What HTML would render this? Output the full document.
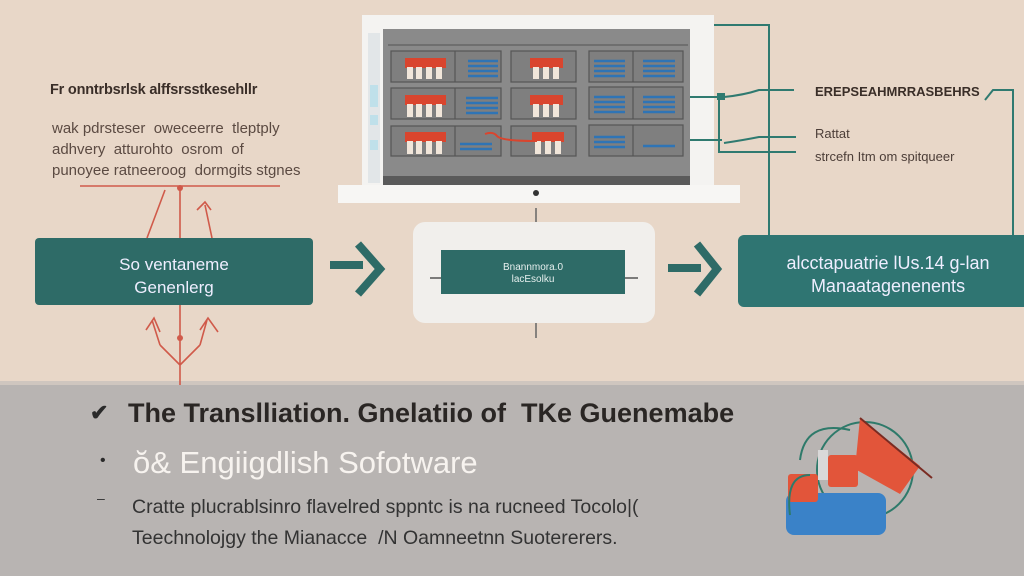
<!DOCTYPE html>
<html><head><meta charset="utf-8"><style>
html,body{margin:0;padding:0;}
body{width:1024px;height:576px;overflow:hidden;background:#e8d7c8;font-family:"Liberation Sans",sans-serif;position:relative;}
svg{position:absolute;left:0;top:0;}
.t{position:absolute;white-space:nowrap;}
</style></head><body>
<svg width="1024" height="576" viewBox="0 0 1024 576">
<rect x="0" y="0" width="1024" height="383" fill="#e8d7c8"/>
<rect x="0" y="383" width="1024" height="193" fill="#b8b4b2"/>
<rect x="0" y="381" width="1024" height="4" fill="#cfc6bf"/>
<rect x="362" y="15" width="352" height="172" fill="#f4f3f1"/>
<rect x="338" y="185" width="402" height="18" fill="#f7f6f4"/>
<circle cx="536" cy="193" r="3" fill="#333"/>
<rect x="368" y="33" width="12" height="150" fill="#e2e6e8"/>
<rect x="370" y="85" width="8" height="22" fill="#bfe0ea"/>
<rect x="370" y="115" width="8" height="10" fill="#bfe0ea"/>
<rect x="370" y="140" width="8" height="10" fill="#bfe0ea"/>
<rect x="383" y="29" width="307" height="156" fill="#8a8a8a"/>
<rect x="383" y="176" width="307" height="9" fill="#5a5a5a"/>
<line x1="388" y1="45" x2="688" y2="45" stroke="#666" stroke-width="1.5"/>
<g fill="#7f7f7f" stroke="#555" stroke-width="1.2">
<rect x="391" y="51" width="110" height="31"/><line x1="455" y1="51" x2="455" y2="82"/>
<rect x="511" y="51" width="65" height="31"/>
<rect x="589" y="51" width="94" height="31"/><line x1="633" y1="51" x2="633" y2="82"/>
<rect x="391" y="88" width="110" height="31"/><line x1="455" y1="88" x2="455" y2="119"/>
<rect x="511" y="88" width="65" height="31"/>
<rect x="589" y="87" width="94" height="32"/><line x1="633" y1="87" x2="633" y2="119"/>
<rect x="391" y="126" width="110" height="30"/><line x1="455" y1="126" x2="455" y2="156"/>
<rect x="511" y="126" width="65" height="30"/>
<rect x="589" y="125" width="94" height="31"/><line x1="633" y1="125" x2="633" y2="156"/>
</g>
<g fill="#d9452e">
<rect x="405" y="58" width="41" height="10"/><rect x="530" y="58" width="33" height="10"/>
<rect x="405" y="95" width="41" height="10"/><rect x="530" y="95" width="33" height="10"/>
<rect x="405" y="132" width="41" height="10"/><rect x="532" y="132" width="32" height="10"/>
</g>
<g fill="#f1e6da">
<rect x="407" y="67" width="6" height="12"/><rect x="416" y="67" width="6" height="12"/><rect x="426" y="67" width="6" height="12"/><rect x="436" y="67" width="6" height="12"/>
<rect x="533" y="67" width="6" height="12"/><rect x="543" y="67" width="6" height="12"/><rect x="553" y="67" width="6" height="12"/>
<rect x="407" y="104" width="6" height="13"/><rect x="416" y="104" width="6" height="13"/><rect x="426" y="104" width="6" height="13"/><rect x="436" y="104" width="6" height="13"/>
<rect x="533" y="104" width="6" height="13"/><rect x="543" y="104" width="6" height="13"/><rect x="553" y="104" width="6" height="13"/>
<rect x="407" y="141" width="6" height="13"/><rect x="416" y="141" width="6" height="13"/><rect x="426" y="141" width="6" height="13"/><rect x="436" y="141" width="6" height="13"/>
<rect x="535" y="141" width="6" height="13"/><rect x="545" y="141" width="6" height="13"/><rect x="555" y="141" width="6" height="13"/>
</g>
<g stroke="#2f74b5" stroke-width="2.5">
<path d="M468 61h30M468 66h30M468 71h30M468 76h30"/>
<path d="M594 61h31M594 66h31M594 71h31M594 76h31M643 61h32M643 66h32M643 71h32M643 76h32"/>
<path d="M466 98h32M466 103h32M466 108h32M466 113h32"/>
<path d="M594 97h31M594 102h31M594 107h31M594 112h31M643 97h32M643 102h32M643 107h32M643 112h32"/>
<path d="M460 144h32M460 149h32M594 137h31M594 142h31M594 147h31M643 146h32"/>
</g>
<path d="M485 134q8 -3 12 2t40 5" stroke="#d9452e" stroke-width="2" fill="none"/>
<g stroke="#2f7a70" stroke-width="2" fill="none">
<path d="M714 25h55v213"/>
<path d="M690 97h32"/><rect x="718" y="94" width="6" height="5" fill="#2f7a70"/>
<path d="M724 97q20 -2 35 -7h35"/>
<path d="M690 140h32M724 143q20 -3 35 -6h37"/>
<path d="M719 97v55h77"/>
<path d="M985 100l8 -10h20v148"/>
</g>
<g stroke="#666" stroke-width="1.5" fill="none">
<path d="M536 208v24M532 228l4 5 4 -5"/>
<path d="M536 296v42M532 303l4 -6 4 6"/>
</g>
<g stroke="#d05a4a" stroke-width="1.6" fill="none">
<path d="M80 186h200"/>
<path d="M165 190l-18 48M180 186v52M205 205l7 33"/>
<path d="M197 210l8 -8 6 8"/>
<path d="M180 305v80M180 365l-20 -20M180 365l20 -20M160 345l-8 -25M200 345l7 -25M146 330l8 -12 6 14M200 330l8 -12 10 14"/>
</g>
<g fill="#d05a4a"><circle cx="180" cy="338" r="3"/><circle cx="180" cy="188" r="3"/></g>
<rect x="35" y="238" width="278" height="67" rx="4" fill="#2e6b67"/>
<rect x="413" y="222" width="242" height="101" rx="12" fill="#f1efec"/>
<rect x="441" y="250" width="184" height="44" fill="#2e6b67"/>
<path d="M430 278h11M625 278h13" stroke="#555" stroke-width="1.5"/>
<rect x="738" y="235" width="300" height="72" rx="6" fill="#2f7572"/>
<path d="M330 265h33M358 244l22 25 -22 25" stroke="#2e6b67" stroke-width="8" fill="none"/>
<path d="M668 268h33M697 244l20 25 -20 25" stroke="#2e6b67" stroke-width="8" fill="none"/>
<g>
<ellipse cx="865" cy="470" rx="48" ry="48" fill="none" stroke="#2e7a6a" stroke-width="2"/>
<path d="M860 418l60 48 -20 28 -45 -25z" fill="#e2553a"/>
<path d="M860 418l72 60" stroke="#7a2b22" stroke-width="2"/>
<rect x="786" y="493" width="100" height="42" rx="8" fill="#3a82c8"/>
<rect x="788" y="474" width="30" height="28" rx="3" fill="#e2553a"/>
<rect x="828" y="455" width="30" height="32" rx="3" fill="#e2553a"/>
<rect x="818" y="450" width="10" height="30" fill="#d9d9d9"/>
<path d="M800 460q5 -40 50 -30M790 515q-5 -40 20 -40" stroke="#2e7a6a" stroke-width="2" fill="none"/>
</g>
</svg>
<div class="t" style="left:50px;top:82px;font-size:14.5px;font-weight:bold;color:#3a2e28;letter-spacing:-0.2px;">Fr onntrbsrlsk alffsrsstkesehllr</div>
<div class="t" style="left:52px;top:118px;font-size:15px;color:#5b4a42;line-height:21px;">wak pdrsteser &nbsp;oweceerre &nbsp;tleptply<br>adhvery &nbsp;atturohto &nbsp;osrom &nbsp;of<br>punoyee ratneeroog &nbsp;dormgits stgnes</div>
<div class="t" style="left:35px;top:253px;width:278px;text-align:center;font-size:17px;color:#eef;line-height:23px;">So ventaneme<br>Genenlerg</div>
<div class="t" style="left:441px;top:262px;width:184px;text-align:center;font-size:10px;color:#e6efee;line-height:12px;">Bnannmora.0<br>lacEsolku</div>
<div class="t" style="left:738px;top:252px;width:300px;text-align:center;font-size:18px;color:#eef;line-height:23px;">alcctapuatrie lUs.14 g-lan<br>Manaatagenenents</div>
<div class="t" style="left:815px;top:84px;font-size:13px;font-weight:bold;color:#3a2e28;">EREPSEAHMRRASBEHRS</div>
<div class="t" style="left:815px;top:122px;font-size:13px;color:#4c3e38;line-height:23px;">Rattat<br>strcefn Itm om spitqueer</div>
<div class="t" style="left:90px;top:400px;font-size:22px;font-weight:bold;color:#2a2a2a;">✔</div>
<div class="t" style="left:128px;top:398px;font-size:27px;font-weight:bold;color:#2a2624;letter-spacing:0px;">The Translliation. Gnelatiio of &nbsp;TKe Guenemabe</div>
<div class="t" style="left:100px;top:452px;font-size:16px;color:#2a2a2a;">•</div>
<div class="t" style="left:133px;top:445px;font-size:31px;color:#f7f3ef;">ŏ&amp; Engiigdlish Sofotware</div>
<div class="t" style="left:97px;top:490px;font-size:14px;color:#333;">–</div>
<div class="t" style="left:132px;top:492px;font-size:19.5px;color:#333;line-height:31px;">Cratte plucrablsinro flavelred sppntc is na rucneed Tocolo|(<br>Teechnolojgy the Mianacce &nbsp;/N Oamneetnn Suotererers.</div>
</body></html>
